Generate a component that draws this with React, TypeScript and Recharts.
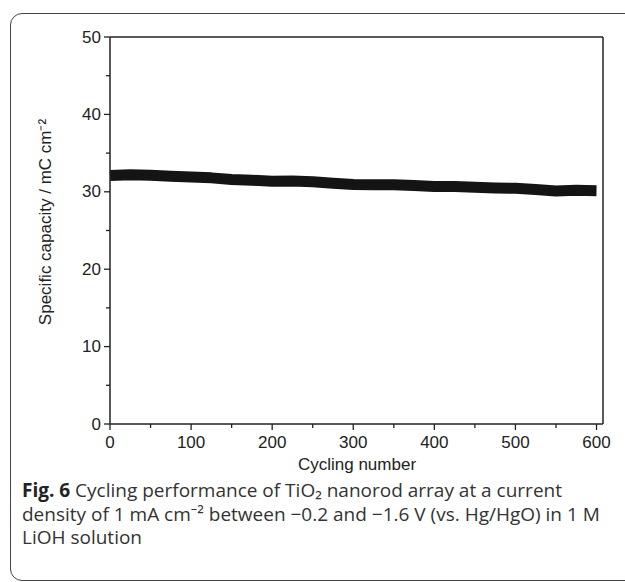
import React from 'react';
import { LineChart, Line, XAxis, YAxis, ReferenceLine } from 'recharts';

const cycles = [0, 25, 50, 75, 100, 125, 150, 175, 200, 225, 250, 275, 300, 325, 350, 375, 400, 425, 450, 475, 500, 525, 550, 575, 600];
const capacity = [32.1, 32.2, 32.15, 32.0, 31.9, 31.8, 31.6, 31.5, 31.35, 31.4, 31.3, 31.1, 30.95, 30.9, 30.9, 30.8, 30.7, 30.7, 30.6, 30.5, 30.45, 30.3, 30.1, 30.2, 30.15];
const xTicks = [0, 50, 100, 150, 200, 250, 300, 350, 400, 450, 500, 550, 600];
const xMajor = [0, 100, 200, 300, 400, 500, 600];
const yTicks = [0, 5, 10, 15, 20, 25, 30, 35, 40, 45, 50];
const yMajor = [0, 10, 20, 30, 40, 50];

const data = cycles.map((c, i) => ({ cycle: c, capacity: capacity[i] }));

const AX = 110;
const AY = 424;
const FONT = '"Liberation Sans", Arial, sans-serif';
const CAP_FONT = '"Open Sans", "Noto Sans", sans-serif';
const INK = '#222';
const FS = 17;

const XTick = (props: any) => {
  const { x, payload } = props;
  const major = xMajor.includes(payload.value);
  return (
    <g>
      <line x1={x} x2={x} y1={AY} y2={AY + (major ? 6 : 4)} stroke={INK} strokeWidth={1.3} />
      {major && (
        <text x={x} y={AY + 18} textAnchor="middle" dominantBaseline="central" fontFamily={FONT} fontSize={FS} fill={INK}>
          {payload.value}
        </text>
      )}
    </g>
  );
};

const YTick = (props: any) => {
  const { y, payload } = props;
  const major = yMajor.includes(payload.value);
  return (
    <g>
      <line x1={AX - (major ? 6 : 4)} x2={AX} y1={y} y2={y} stroke={INK} strokeWidth={1.3} />
      {major && (
        <text x={AX - 9} y={y} textAnchor="end" dominantBaseline="central" fontFamily={FONT} fontSize={FS} fill={INK}>
          {payload.value}
        </text>
      )}
    </g>
  );
};

const capLine = (top: number): React.CSSProperties => ({
  position: 'absolute',
  left: 22,
  top,
  fontFamily: CAP_FONT,
  fontSize: 19,
  lineHeight: '21px',
  color: '#333',
  whiteSpace: 'nowrap',
});

export default function App() {
  return (
    <div style={{ position: 'absolute', left: 0, top: 0, width: 625, height: 582, overflow: 'hidden', background: '#fff' }}>
      <div
        style={{
          position: 'absolute',
          left: 10,
          top: 13,
          width: 640,
          height: 568,
          border: '1.5px solid #444',
          borderRadius: 12,
          boxSizing: 'border-box',
        }}
      />
      <div style={{ position: 'absolute', left: 0, top: 0 }}>
        <LineChart width={625} height={582} data={data} margin={{ top: 37, right: 22, left: 50, bottom: 128 }}>
          <XAxis
            type="number"
            dataKey="cycle"
            domain={[0, 608]}
            ticks={xTicks}
            interval={0}
            tickLine={false}
            tick={<XTick />}
            height={30}
            axisLine={{ stroke: INK, strokeWidth: 1.5 }}
          />
          <YAxis
            type="number"
            domain={[0, 50]}
            ticks={yTicks}
            interval={0}
            tickLine={false}
            tick={<YTick />}
            width={60}
            axisLine={{ stroke: INK, strokeWidth: 1.5 }}
          />
          <ReferenceLine y={50} stroke={INK} strokeWidth={1.5} />
          <ReferenceLine x={608} stroke={INK} strokeWidth={1.5} />
          <Line
            type="linear"
            dataKey="capacity"
            stroke="#141414"
            strokeWidth={11}
            strokeLinecap="butt"
            strokeLinejoin="round"
            dot={false}
            isAnimationActive={false}
          />
        </LineChart>
      </div>
      <div
        style={{
          position: 'absolute',
          left: 357,
          top: 465,
          transform: 'translate(-50%, -50%)',
          fontFamily: FONT,
          fontSize: FS,
          lineHeight: '18px',
          color: INK,
          whiteSpace: 'nowrap',
        }}
      >
        Cycling number
      </div>
      <div
        style={{
          position: 'absolute',
          left: 46,
          top: 222,
          transform: 'translate(-50%, -50%) rotate(-90deg)',
          fontFamily: FONT,
          fontSize: FS,
          lineHeight: '18px',
          color: INK,
          whiteSpace: 'nowrap',
        }}
      >
        Specific capacity / mC cm⁻²
      </div>
      <div style={capLine(480)}>
        <b style={{ color: '#222' }}>Fig. 6</b> Cycling performance of TiO₂ nanorod array at a current
      </div>
      <div style={capLine(503.5)}>density of 1 mA cm⁻² between −0.2 and −1.6 V (vs. Hg/HgO) in 1 M</div>
      <div style={capLine(527)}>LiOH solution</div>
    </div>
  );
}
